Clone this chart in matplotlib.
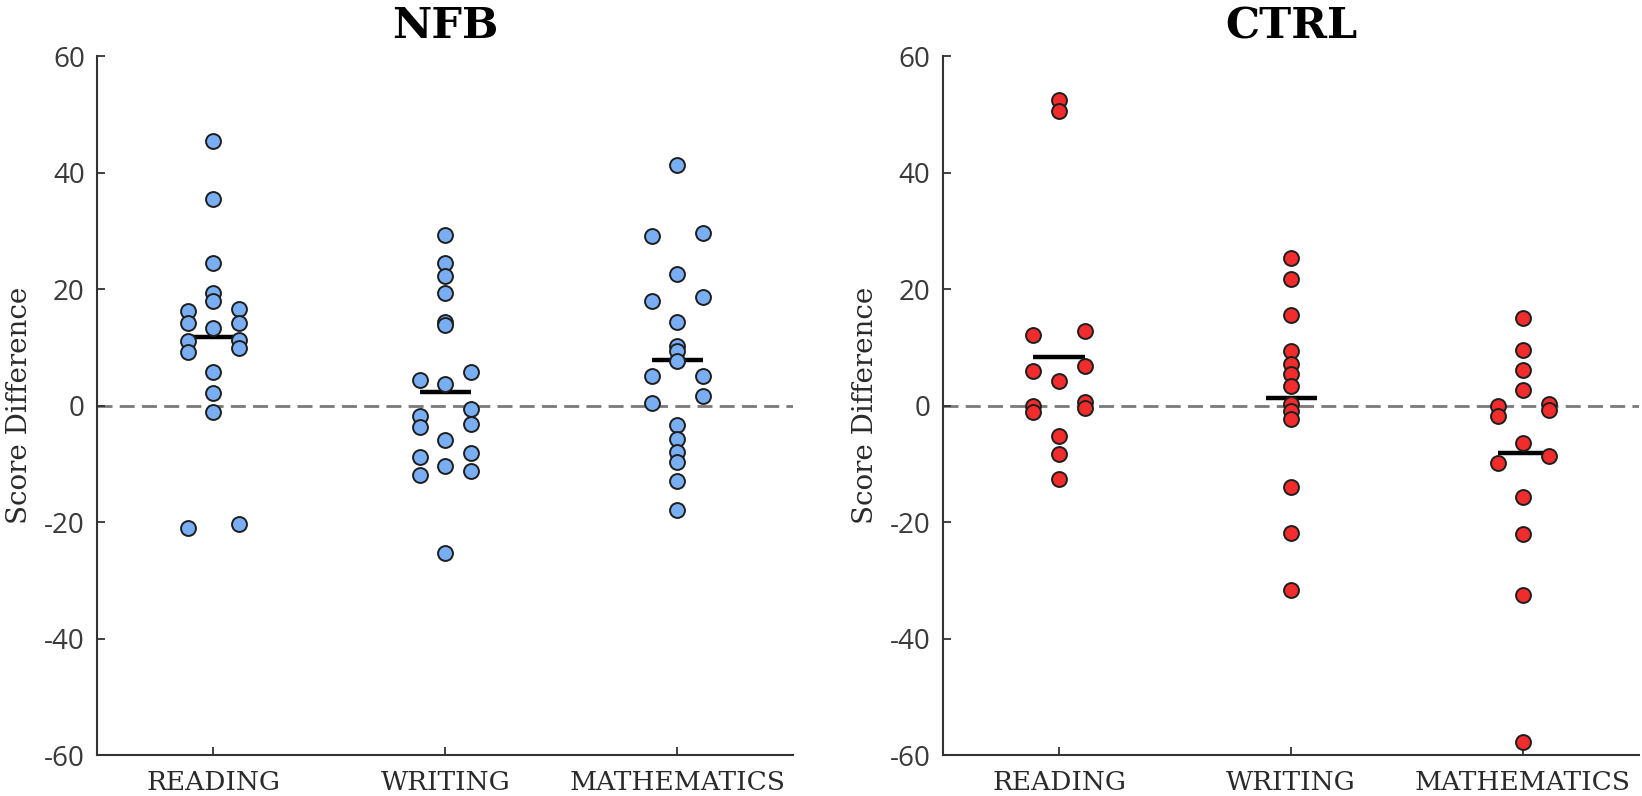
import numpy as np
import matplotlib
matplotlib.use('Agg')
import matplotlib.pyplot as plt

plt.rcParams['axes.unicode_minus'] = False

# score differences
subjects = ['READING', 'WRITING', 'MATHEMATICS']

nfb_reading = [45.4, 35.4, 24.4, 19.3, 17.9, 16.5, 16.3, 14.2, 14.2, 13.3,
               11.3, 11.0, 9.9, 9.2, 5.7, 2.2, -1.1, -20.3, -21.0]
nfb_writing = [29.3, 24.5, 22.3, 19.4, 14.4, 13.8, 5.8, 4.4, 3.7, -0.6,
               -1.8, -3.1, -3.6, -5.9, -8.2, -8.9, -10.3, -11.2, -11.9, -25.3]
nfb_math = [41.3, 29.6, 29.1, 22.6, 18.7, 18.0, 14.4, 10.3, 9.3, 7.6,
            5.1, 5.0, 1.7, 0.5, -3.4, -5.8, -8.0, -9.7, -12.9, -17.9]

ctrl_reading = [52.4, 50.5, 12.8, 12.2, 6.8, 6.0, 4.2, 0.6, 0.0, -0.5,
                -1.1, -5.2, -8.4, -12.6]
ctrl_writing = [25.3, 21.7, 15.5, 9.3, 7.1, 5.5, 3.4, 0.3, -0.9, -2.3,
                -13.9, -21.9, -31.7]
ctrl_math = [15.0, 9.5, 6.1, 2.6, 0.3, 0.0, -0.7, -1.8, -6.5, -8.7,
             -9.8, -15.7, -22.1, -32.6, -57.8]

groups = {'NFB': [nfb_reading, nfb_writing, nfb_math],
          'CTRL': [ctrl_reading, ctrl_writing, ctrl_math]}
face = {'NFB': '#7aaef2', 'CTRL': '#f02c2c'}


def spread(vals, bin_w=2.0):
    # plotSpread-like: points sharing a value bin are pushed sideways
    vals = np.asarray(vals, float)
    off = np.zeros(len(vals))
    bins = np.floor(vals / bin_w)
    for b in np.unique(bins):
        idx = np.where(bins == b)[0]
        n = len(idx)
        if n == 1:
            continue
        idx = idx[np.argsort(vals[idx])]
        if n == 2:
            off[idx] = [-0.11, 0.11]
        else:
            med = np.median(vals[idx])
            side = idx[np.argsort(np.abs(vals[idx] - med))][:2]
            side = side[np.argsort(vals[side])]
            w = 0.11 if n == 3 else 0.17
            off[side] = [-w, w]
    return off


fig = plt.figure(figsize=(16.42, 7.96), dpi=100)
axes = [fig.add_axes([0.0593, 0.0515, 0.4239, 0.878]),
        fig.add_axes([0.5743, 0.0515, 0.4239, 0.878])]

for ax, name in zip(axes, ['NFB', 'CTRL']):
    ax.axhline(0, color='#7a7a7a', lw=2, dashes=(5.4, 2.6), zorder=1)
    for i, vals in enumerate(groups[name]):
        pos = i + 1
        x = pos + spread(vals)
        ax.scatter(x, vals, s=115, c=face[name], edgecolors='#1e1e1e',
                   linewidths=1.4, zorder=4)
        m = np.mean(vals)
        ax.plot([pos - 0.11, pos + 0.11], [m, m], color='black', lw=3.2,
                solid_capstyle='butt', zorder=3)

    ax.set_xlim(0.5, 3.5)
    ax.set_ylim(-60, 60)
    ax.set_yticks(np.arange(-60, 61, 20))
    ax.set_xticks([1, 2, 3])
    ax.set_xticklabels(subjects, family='DejaVu Serif', fontsize=19,
                       color='#2a2a2a')
    for lab in ax.get_yticklabels():
        lab.set_family('Open Sans')
        lab.set_fontsize(20)
        lab.set_color('#3a3a3a')
    ax.tick_params(direction='in', length=6, width=1.3, color='#333333')
    ax.tick_params(axis='y', pad=9)
    ax.tick_params(axis='x', pad=11)
    for s in ['top', 'right']:
        ax.spines[s].set_visible(False)
    for s in ['left', 'bottom']:
        ax.spines[s].set_color('#333333')
        ax.spines[s].set_linewidth(1.5)
    ax.set_ylabel('Score Difference', family='DejaVu Serif', fontsize=20,
                  color='#2a2a2a', labelpad=8)
    ax.set_title(name, family='DejaVu Serif', fontweight='black',
                 fontsize=31, pad=13)

fig.savefig('out.png', dpi=100)
